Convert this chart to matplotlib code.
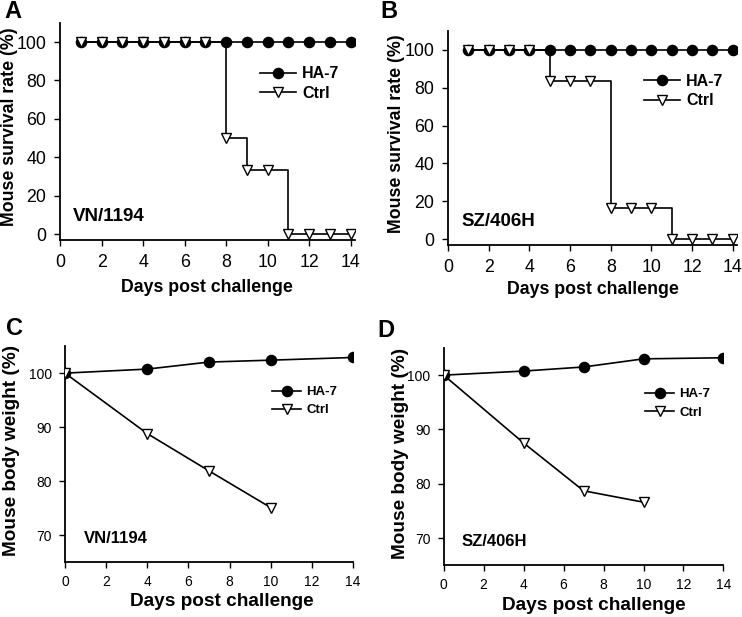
import matplotlib
matplotlib.use("Agg")
import matplotlib.pyplot as plt

plt.rcParams["font.family"] = ["Liberation Sans", "DejaVu Sans"]

# survival data (A, B)
days_surv = [1, 2, 3, 4, 5, 6, 7, 8, 9, 10, 11, 12, 13, 14]
ha7_surv_vn = [100] * 14
ctrl_surv_vn = [100, 100, 100, 100, 100, 100, 100, 50, 33.3, 33.3, 0, 0, 0, 0]
ha7_surv_sz = [100] * 14
ctrl_surv_sz = [100, 100, 100, 100, 83.3, 83.3, 83.3, 16.7, 16.7, 16.7, 0, 0, 0, 0]

# body weight data (C, D)
days_ha7_wt = [0, 4, 7, 10, 14]
days_ctrl_wt = [0, 4, 7, 10]
ha7_wt_vn = [100, 100.75, 102.05, 102.4, 102.9]
ctrl_wt_vn = [100, 88.8, 81.9, 75.1]
ha7_wt_sz = [100, 100.75, 101.5, 103.0, 103.2]
ctrl_wt_sz = [100, 87.5, 78.7, 76.6]

strains = ["VN/1194", "SZ/406H"]


def style_axes(ax, tick_size, pad):
    for side in ["top", "right"]:
        ax.spines[side].set_visible(False)
    for side in ["left", "bottom"]:
        ax.spines[side].set_linewidth(1.3)
    ax.tick_params(direction="out", length=4, width=1.0, labelsize=tick_size, pad=pad)


def plot_pair(ax, x_ha7, ha7, x_ctrl, ctrl, steps):
    ax.plot(x_ha7, ha7, color="black", lw=1.2, marker="o", ms=7.3,
            mfc="black", mec="black", label="HA-7", zorder=2)
    ax.plot(x_ctrl, ctrl, color="black", lw=1.2, marker="v", ms=7,
            mfc="white", mec="black", mew=1.0,
            drawstyle="steps-post" if steps else "default",
            label="Ctrl", zorder=3)


def survival_panel(fig, rect, ha7, ctrl, strain, letter, letter_xy, ylab_x, xlab_y):
    ax = fig.add_axes(rect)
    plot_pair(ax, days_surv, ha7, days_surv, ctrl, True)
    ax.set_xlim(0, 14.2)
    ax.set_ylim(-3, 110)
    ax.set_xticks(range(0, 15, 2))
    ax.set_yticks(range(0, 101, 20))
    style_axes(ax, 12.8, 6)
    ax.set_xlabel("Days post challenge", fontsize=12.8, fontweight="bold", va="top")
    ax.set_ylabel("Mouse survival rate (%)", fontsize=12.8, fontweight="bold")
    ax.xaxis.set_label_coords(0.5, xlab_y)
    ax.yaxis.set_label_coords(ylab_x, 0.52)
    ax.legend(loc="upper left", bbox_to_anchor=(0.68, 0.80), frameon=False,
              prop={"weight": "bold", "size": 11.5}, handlelength=2.2,
              handletextpad=0.4, labelspacing=0.3, borderpad=0, borderaxespad=0)
    ax.text(0.045, 0.11, strain, transform=ax.transAxes, fontsize=13.5,
            fontweight="bold", va="center", ha="left")
    fig.text(letter_xy[0], letter_xy[1], letter, fontsize=17, fontweight="bold",
             va="center", ha="left")
    return ax


def weight_panel(fig, rect, ha7, ctrl, strain, letter, letter_xy, ylab_x, xlab_x):
    ax = fig.add_axes(rect)
    plot_pair(ax, days_ha7_wt, ha7, days_ctrl_wt, ctrl, False)
    ax.set_xlim(0, 14)
    ax.set_ylim(65, 105)
    ax.set_xticks(range(0, 15, 2))
    ax.set_yticks([70, 80, 90, 100])
    style_axes(ax, 10, 5.5)
    ax.set_xlabel("Days post challenge", fontsize=13.7, fontweight="bold", va="top")
    ax.set_ylabel("Mouse body weight (%)", fontsize=13.7, fontweight="bold")
    ax.xaxis.set_label_coords(xlab_x, -0.145)
    ax.yaxis.set_label_coords(ylab_x, 0.515)
    ax.legend(loc="upper left", bbox_to_anchor=(0.72, 0.815), frameon=False,
              prop={"weight": "bold", "size": 9.5}, handlelength=2.2,
              handletextpad=0.4, labelspacing=0.45, borderpad=0, borderaxespad=0)
    ax.text(0.065, 0.11, strain, transform=ax.transAxes, fontsize=12,
            fontweight="bold", va="center", ha="left")
    fig.text(letter_xy[0], letter_xy[1], letter, fontsize=17, fontweight="bold",
             va="center", ha="left")
    return ax


fig = plt.figure(figsize=(7.42, 6.17), dpi=100)

survival_panel(fig, [0.081, 0.611, 0.397, 0.352], ha7_surv_vn, ctrl_surv_vn,
               strains[0], "A", (0.006, 0.982), -0.142, -0.18)
survival_panel(fig, [0.604, 0.603, 0.389, 0.347], ha7_surv_sz, ctrl_surv_sz,
               strains[1], "B", (0.512, 0.982), -0.148, -0.17)
weight_panel(fig, [0.0876, 0.089, 0.388, 0.350], ha7_wt_vn, ctrl_wt_vn,
             strains[0], "C", (0.008, 0.468), -0.156, 0.545)
weight_panel(fig, [0.598, 0.084, 0.377, 0.352], ha7_wt_sz, ctrl_wt_sz,
             strains[1], "D", (0.508, 0.465), -0.125, 0.537)

fig.savefig("out.png", dpi=100)
